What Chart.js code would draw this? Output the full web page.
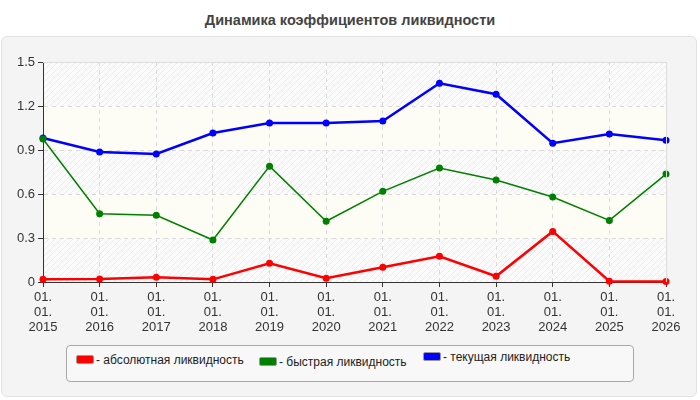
<!DOCTYPE html>
<html>
<head>
<meta charset="utf-8">
<script src="https://cdn.jsdelivr.net/npm/chart.js@4"></script>
<style>
  body { margin: 0; background: #fff; font-family: "Liberation Sans", Arial, sans-serif; }
  #wrap { position: relative; width: 700px; height: 400px; overflow: hidden; }
  #title { position: absolute; top: 12px; left: 0; width: 700px; text-align: center; font-weight: bold; font-size: 14.5px; color: #444; }
  #panel { position: absolute; left: 1px; top: 36px; width: 696px; height: 361px; background: #f4f4f4; border: 1px solid #e2e2e2; border-radius: 6px; box-sizing: border-box; }
  #chart { position: absolute; left: 0; top: 0; }
  #legend { position: absolute; left: 66px; top: 345px; width: 568px; height: 37px; border: 1px solid #a8a8a8; border-radius: 4px; background: #f8f8f8; box-sizing: border-box; }
  .item { position: absolute; font-size: 12px; color: #222; white-space: nowrap; line-height: 14px; }
  .sw { display: inline-block; width: 16px; height: 7px; border: 1px solid #999; border-radius: 2px; margin-right: 2px; vertical-align: 0px; }
</style>
</head>
<body>
<div id="wrap">
  <div id="title">Динамика коэффициентов ликвидности</div>
  <div id="panel"></div>
  <canvas id="chart" width="700" height="400"></canvas>
  <div id="legend"></div>
</div>
<script>
// Данные графика
const categories = ['01.01.2015', '01.01.2016', '01.01.2017', '01.01.2018', '01.01.2019', '01.01.2020',
                    '01.01.2021', '01.01.2022', '01.01.2023', '01.01.2024', '01.01.2025', '01.01.2026'];
const seriesNames = ['абсолютная ликвидность', 'быстрая ликвидность', 'текущая ликвидность'];
const absolutna = [0.018, 0.02, 0.032, 0.018, 0.127, 0.025, 0.1, 0.175, 0.039, 0.345, 0.005, 0.003];
const bystraya = [0.975, 0.466, 0.455, 0.286, 0.79, 0.414, 0.618, 0.777, 0.695, 0.58, 0.42, 0.736];
const tekushaya = [0.982, 0.886, 0.873, 1.016, 1.084, 1.084, 1.098, 1.355, 1.28, 0.946, 1.009, 0.966];
const yTicks = [0, 0.3, 0.6, 0.9, 1.2, 1.5];
const colors = ['#ff0000', '#008000', '#0000ff'];

// Фон области построения: штриховка и светлые полосы
const bgPlugin = {
    id: 'bgPlugin',
    beforeDraw(chart) {
        const { ctx, chartArea: a, scales } = chart;
        const pc = document.createElement('canvas');
        pc.width = 6; pc.height = 6;
        const p = pc.getContext('2d');
        p.fillStyle = '#fbfbfb';
        p.fillRect(0, 0, 6, 6);
        p.strokeStyle = '#ebebeb';
        p.lineWidth = 1;
        p.beginPath();
        p.moveTo(0, 6); p.lineTo(6, 0);
        p.moveTo(-1, 1); p.lineTo(1, -1);
        p.moveTo(5, 7); p.lineTo(7, 5);
        p.stroke();
        ctx.save();
        ctx.fillStyle = ctx.createPattern(pc, 'repeat');
        ctx.fillRect(a.left, a.top, a.right - a.left, a.bottom - a.top);
        ctx.fillStyle = '#fdfdf5';
        for (let i = 1; i < yTicks.length - 1; i += 2) {
            const y1 = scales.y.getPixelForValue(yTicks[i + 1]);
            const y0 = scales.y.getPixelForValue(yTicks[i]);
            ctx.fillRect(a.left, y1, a.right - a.left, y0 - y1);
        }
        ctx.restore();
    },
    afterDatasetsDraw(chart) {
        const { ctx, chartArea: a } = chart;
        ctx.save();
        ctx.strokeStyle = '#dcdcdc';
        ctx.lineWidth = 1;
        ctx.beginPath();
        ctx.moveTo(a.left, a.top + 0.5); ctx.lineTo(a.right + 0.5, a.top + 0.5); ctx.lineTo(a.right + 0.5, a.bottom);
        ctx.stroke();
        ctx.restore();
    }
};

const widths = [2.5, 1.5, 2.5];
const datasets = [absolutna, bystraya, tekushaya].map((d, i) => ({
    label: seriesNames[i],
    data: d,
    borderColor: colors[i],
    backgroundColor: colors[i],
    borderWidth: widths[i],
    pointRadius: 3.5,
    pointHoverRadius: 3.5,
    pointBorderWidth: 0,
    tension: 0,
    clip: false
}));

new Chart(document.getElementById('chart'), {
    type: 'line',
    data: { labels: categories, datasets: datasets },
    options: {
        responsive: false,
        animation: false,
        layout: { padding: { left: 0, right: 34, top: 62, bottom: 58 } },
        plugins: { legend: { display: false }, tooltip: { enabled: false } },
        scales: {
            x: {
                offset: false,
                afterFit(s) { s.height = 60; },
                grid: { color: '#dadada', tickColor: '#333', tickLength: 5, tickBorderDash: [], drawOnChartArea: true },
                border: { color: '#333', width: 1, dash: [4, 4] },
                ticks: {
                    color: '#333',
                    padding: 3,
                    maxRotation: 0,
                    autoSkip: false,
                    font: { family: '"Liberation Sans", Arial', size: 13, lineHeight: 1.15 },
                    callback: function(v) {
                        const s = this.getLabelForValue(v);
                        return [s.slice(0, 3), s.slice(3, 6), s.slice(6)];
                    }
                }
            },
            y: {
                min: 0,
                max: 1.5,
                afterFit(s) { s.width = 43; },
                afterBuildTicks(s) { s.ticks = yTicks.map(v => ({ value: v })); },
                grid: { color: '#dadada', tickColor: '#333', tickLength: 5, tickBorderDash: [] },
                border: { color: '#333', width: 1, dash: [4, 4] },
                ticks: {
                    color: '#333',
                    padding: 3,
                    font: { family: '"Liberation Sans", Arial', size: 13 },
                    callback: v => String(v)
                }
            }
        }
    },
    plugins: [bgPlugin]
});

// Легенда
const legendPos = [[9, 7], [192, 9], [356, 4]];
const legend = document.getElementById('legend');
seriesNames.forEach((name, i) => {
    const el = document.createElement('div');
    el.className = 'item';
    el.style.left = legendPos[i][0] + 'px';
    el.style.top = legendPos[i][1] + 'px';
    el.innerHTML = '<span class="sw" style="background:' + colors[i] + '"></span>- ' + name;
    legend.appendChild(el);
});
</script>
</body>
</html>
